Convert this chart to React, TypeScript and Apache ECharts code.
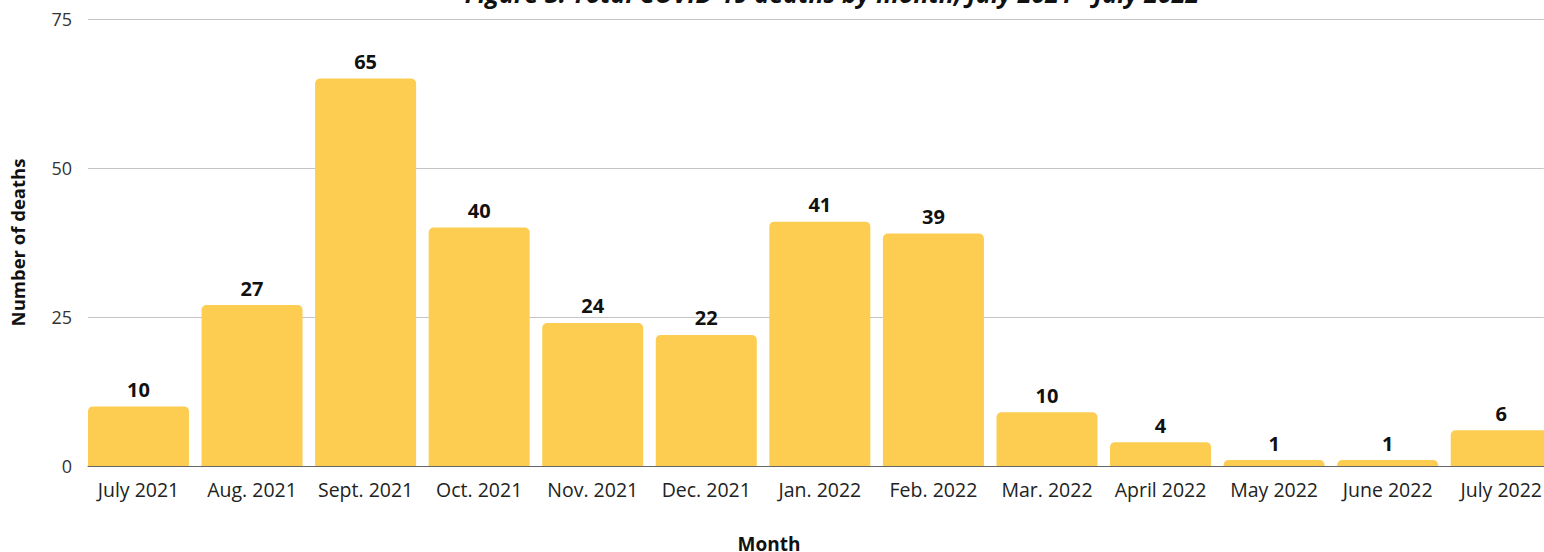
import React, { useEffect, useRef } from "react";
import * as echarts from "echarts";

const months = [
  "July 2021", "Aug. 2021", "Sept. 2021", "Oct. 2021", "Nov. 2021", "Dec. 2021",
  "Jan. 2022", "Feb. 2022", "Mar. 2022", "April 2022", "May 2022", "June 2022", "July 2022",
];
const barValues = [10, 27, 65, 40, 24, 22, 41, 39, 9, 4, 1, 1, 6];
const labelValues = [10, 27, 65, 40, 24, 22, 41, 39, 10, 4, 1, 1, 6];
const yTicks = [0, 25, 50, 75];
const titleText = "Figure 3: Total COVID-19 deaths by month, July 2021 - July 2022";
const xTitle = "Month";
const yTitle = "Number of deaths";

const FONT = "'Open Sans', 'Noto Sans', sans-serif";
const CONTAINER_W = 1558.3;

export default function App() {
  const ref = useRef<HTMLDivElement>(null);
  useEffect(() => {
    if (!ref.current) return;
    const chart = echarts.init(ref.current, null, { renderer: "svg" });
    const yMin = yTicks[0];
    const yMax = yTicks[yTicks.length - 1];
    const step = yTicks[1] - yTicks[0];
    chart.setOption({
      animation: false,
      textStyle: { fontFamily: FONT },
      grid: [
        { left: 88, right: CONTAINER_W - 1544, top: 19, bottom: 86 },
        { left: 81.7, right: 0, top: 19, bottom: 86 },
      ],
      xAxis: [
        {
          type: "category",
          gridIndex: 0,
          data: months,
          axisLine: { show: true, lineStyle: { color: "#666", width: 1 } },
          axisTick: { show: false },
          axisLabel: { show: false },
        },
        {
          type: "category",
          gridIndex: 1,
          data: months,
          axisLine: { show: false },
          axisTick: { show: false },
          axisLabel: { color: "#222", fontSize: 19.5, margin: 13, fontFamily: FONT, interval: 0 },
        },
      ],
      yAxis: [
        {
          type: "value",
          gridIndex: 0,
          min: yMin,
          max: yMax,
          interval: step,
          axisLine: { show: false },
          axisTick: { show: false },
          axisLabel: { color: "#333", fontSize: 18, margin: 16, fontFamily: FONT },
          splitLine: { lineStyle: { color: "#c4c4c4", width: 1 } },
          name: yTitle,
          nameLocation: "middle",
          nameGap: 61,
          nameTextStyle: { fontSize: 18.5, fontWeight: "bold", color: "#111", fontFamily: FONT },
        },
        {
          type: "value",
          gridIndex: 1,
          min: yMin,
          max: yMax,
          interval: step,
          show: false,
          splitLine: { show: false },
        },
      ],
      graphic: [
        {
          type: "text",
          x: 832,
          y: -20,
          style: {
            text: titleText,
            fontSize: 25,
            fontWeight: "bold",
            fontStyle: "italic",
            fontFamily: FONT,
            fill: "#111",
            align: "center",
            verticalAlign: "top",
          },
        },
        {
          type: "text",
          x: 769,
          y: 544,
          style: {
            text: xTitle,
            fontSize: 19,
            fontWeight: "bold",
            fontFamily: FONT,
            fill: "#111",
            align: "center",
            verticalAlign: "middle",
          },
        },
      ],
      series: [
        {
          type: "bar",
          xAxisIndex: 1,
          yAxisIndex: 1,
          data: barValues,
          barWidth: 101,
          itemStyle: { color: "#FDCD52", borderRadius: [5, 5, 0, 0] },
          label: {
            show: true,
            position: "top",
            distance: 7,
            fontSize: 20,
            fontWeight: "bold",
            color: "#111",
            fontFamily: FONT,
            formatter: (p: any) => String(labelValues[p.dataIndex]),
          },
        },
      ],
    });
    return () => chart.dispose();
  }, []);
  return (
    <div
      ref={ref}
      style={{ position: "fixed", left: 0, top: 0, width: CONTAINER_W, height: 552, background: "#fff" }}
    />
  );
}
